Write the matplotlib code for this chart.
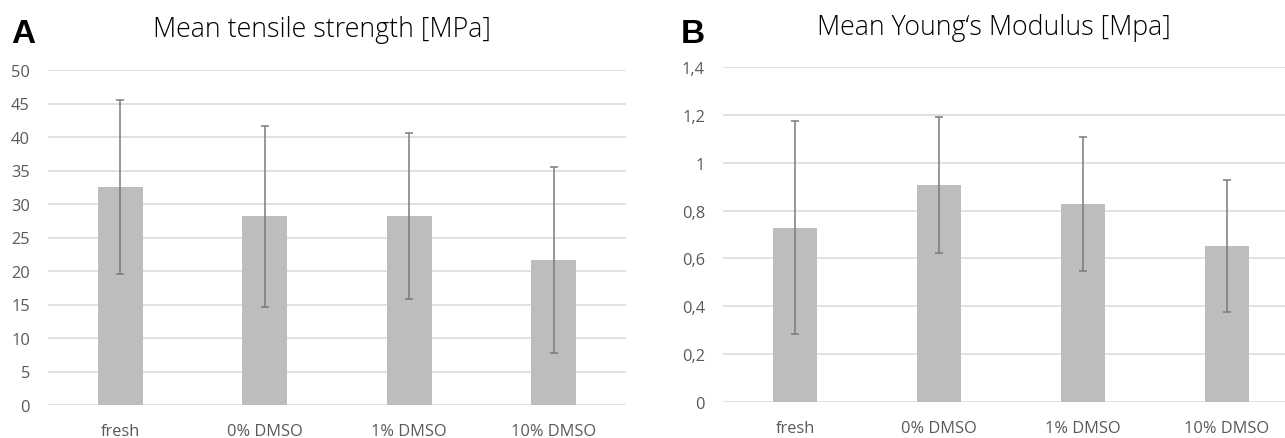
import numpy as np
import matplotlib.pyplot as plt
from matplotlib.ticker import FuncFormatter

# data
groups = ["fresh", "0% DMSO", "1% DMSO", "10% DMSO"]
tensile_mean = [32.5, 28.2, 28.2, 21.6]
tensile_sd = [13.0, 13.5, 12.4, 13.9]
young_mean = [0.729, 0.907, 0.827, 0.653]
young_sd = [0.445, 0.286, 0.281, 0.276]

plt.rcParams['font.family'] = ['Open Sans', 'DejaVu Sans']

bar_col = '#bdbdbd'
err_col = '#7a7a7a'
grid_col = '#d9d9d9'
txt_col = '#595959'

W, H = 1285, 439
fig = plt.figure(figsize=(W / 100, H / 100), dpi=100)

def px_axes(x0, x1, ytop, ybot):
    return fig.add_axes([x0 / W, 1 - ybot / H, (x1 - x0) / W, (ybot - ytop) / H])

def comma(v, pos):
    return f"{v:g}".replace('.', ',')

def draw(ax, means, sds, ymax, step):
    x = np.arange(len(groups))
    ax.bar(x, means, width=0.31, color=bar_col, zorder=2,
           yerr=sds, error_kw=dict(ecolor=err_col, elinewidth=1.1, capsize=3, capthick=1.1, zorder=3))
    ax.set_xlim(-0.5, len(groups) - 0.5)
    ax.set_ylim(0, ymax)
    ax.set_yticks(np.arange(0, ymax + step / 2, step))
    ax.yaxis.set_major_formatter(FuncFormatter(comma))
    ax.set_xticks(x)
    ax.set_xticklabels(groups)
    ax.grid(axis='y', color=grid_col, linewidth=1.1, zorder=0)
    ax.set_axisbelow(True)
    for s in ax.spines.values():
        s.set_visible(False)
    ax.tick_params(length=0, labelsize=11.8, labelcolor=txt_col)
    ax.tick_params(axis='y', pad=13)
    ax.tick_params(axis='x', pad=13)

ax1 = px_axes(48, 626, 71, 406)
draw(ax1, tensile_mean, tensile_sd, 50, 5)

ax2 = px_axes(723, 1299, 68, 403)
draw(ax2, young_mean, young_sd, 1.4, 0.2)

fig.text(322 / W, 1 - 37 / H, "Mean tensile strength [MPa]", ha='center', va='baseline',
         fontsize=19.3, fontweight='light', color='black')
fig.text(994 / W, 1 - 35 / H, "Mean Young\u2018s Modulus [Mpa]", ha='center', va='baseline',
         fontsize=19.3, fontweight='light', color='black')
fig.text(11 / W, 1 - 43 / H, "A", ha='left', va='baseline', fontsize=24, fontweight='bold',
         family=['Liberation Sans', 'DejaVu Sans'])
fig.text(681 / W, 1 - 43 / H, "B", ha='left', va='baseline', fontsize=24, fontweight='bold',
         family=['Liberation Sans', 'DejaVu Sans'])

fig.savefig('out.png', dpi=100)
